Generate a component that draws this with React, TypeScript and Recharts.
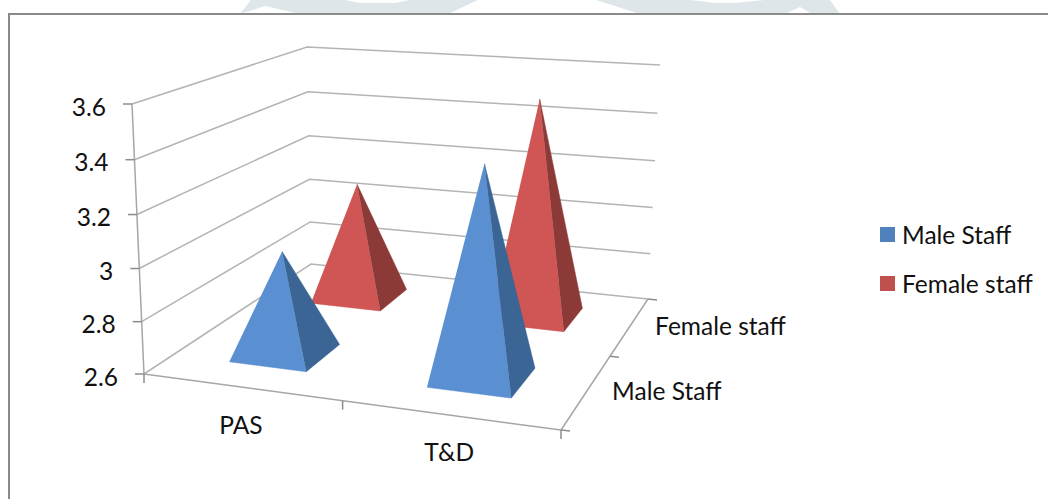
import React from "react";
import { Legend, Scatter, ScatterChart, XAxis, YAxis } from "recharts";

const WIDTH = 1048;
const HEIGHT = 499;

const categories = ["PAS", "T&D"];
const seriesNames = ["Male Staff", "Female staff"];
const legendColors = ["#4f81bd", "#c0504d"];
const maleValues = [3.0, 3.4];
const femaleValues = [3.09, 3.5];
const valueTicks = [2.6, 2.8, 3, 3.2, 3.4, 3.6];

const VALUE_MIN = 2.6;
const VALUE_MAX = 3.6;
// share of a category / series slot taken by a pyramid's base
const BASE_U = 0.2;
const BASE_V = 0.21;
// foreshortening of the value axis towards the top of the box
const VALUE_PERSPECTIVE = 1.04;

type Pt = { x: number; y: number };

// corners of the 3D box on the page: front-left, front-right, back-right, back-left
const floorCorners = [
  { x: 144, y: 374 },
  { x: 561, y: 430 },
  { x: 648, y: 299 },
  { x: 311, y: 264 },
];
const ceilingCorners = [
  { x: 132, y: 104 },
  { x: 578, y: 140 },
  { x: 660, y: 65 },
  { x: 307, y: 47 },
];

// perspective map from the unit square onto a quad
const quadMap = ([p0, p1, p2, p3]: Pt[]) => {
  const sx = p0.x - p1.x + p2.x - p3.x;
  const sy = p0.y - p1.y + p2.y - p3.y;
  const dx1 = p1.x - p2.x;
  const dx2 = p3.x - p2.x;
  const dy1 = p1.y - p2.y;
  const dy2 = p3.y - p2.y;
  const den = dx1 * dy2 - dx2 * dy1;
  const g = (sx * dy2 - dx2 * sy) / den;
  const h = (dx1 * sy - sx * dy1) / den;
  return (u: number, v: number): Pt => {
    const w = g * u + h * v + 1;
    return {
      x: ((p1.x - p0.x + g * p1.x) * u + (p3.x - p0.x + h * p3.x) * v + p0.x) / w,
      y: ((p1.y - p0.y + g * p1.y) * u + (p3.y - p0.y + h * p3.y) * v + p0.y) / w,
    };
  };
};

const floorAt = quadMap(floorCorners);
const ceilingAt = quadMap(ceilingCorners);

// u runs along the categories, v into the depth, value up the walls
const project = (u: number, v: number, value: number): Pt => {
  const a = floorAt(u, v);
  const b = ceilingAt(u, v);
  const raw = (value - VALUE_MIN) / (VALUE_MAX - VALUE_MIN);
  const t = raw / (raw + (1 - raw) * VALUE_PERSPECTIVE);
  return { x: a.x + (b.x - a.x) * t, y: a.y + (b.y - a.y) * t };
};

const pyramidFaces = (catIndex: number, seriesIndex: number, value: number) => {
  const u = (catIndex + 0.5) / categories.length;
  const v = (seriesIndex + 0.5) / seriesNames.length;
  const du = BASE_U / categories.length;
  const dv = BASE_V / seriesNames.length;
  const apex = project(u, v, value);
  const frontLeft = project(u - du, v - dv, VALUE_MIN);
  const frontRight = project(u + du, v - dv, VALUE_MIN);
  const backRight = project(u + du, v + dv, VALUE_MIN);
  return { front: [frontLeft, frontRight, apex], side: [frontRight, backRight, apex] };
};

const offset = (p: Pt, dx: number, dy: number): Pt => ({ x: p.x + dx, y: p.y + dy });

const gridLines = valueTicks.map((t) => [
  project(0, 0, t),
  project(0, 1, t),
  project(1, 1, t),
]);

const frameLines = [
  [project(0, 0, VALUE_MIN), project(0, 0, VALUE_MAX)],
  [project(0, 0, VALUE_MIN), project(1, 0, VALUE_MIN)],
  [project(1, 0, VALUE_MIN), project(1, 1, VALUE_MIN)],
];

const tickLines = [
  ...valueTicks.map((t) => [project(0, 0, t), offset(project(0, 0, t), -9, 0)]),
  ...[0, 0.5, 1].map((u) => [project(u, 0, VALUE_MIN), offset(project(u, 0, VALUE_MIN), 0, 9)]),
  ...[0, 0.5, 1].map((v) => [project(1, v, VALUE_MIN), offset(project(1, v, VALUE_MIN), 9, 1)]),
];

const valueLabels = valueTicks.map((t) => ({ ...project(0, 0, t), label: String(t) }));
const categoryLabels = categories.map((label, i) => ({
  ...project((i + 0.5) / categories.length, 0, VALUE_MIN),
  label,
}));
const depthLabels = seriesNames.map((label, i) => ({
  ...project(1, (i + 0.5) / seriesNames.length, VALUE_MIN),
  label,
}));

const FONT = "Lato, sans-serif";
const TEXT_SIZE = 24.5;

const textShape = (dx: number, dy: number, anchor: "start" | "middle" | "end") => (p: any) => (
  <text
    x={p.cx + dx}
    y={p.cy + dy}
    textAnchor={anchor}
    dominantBaseline="central"
    fontFamily={FONT}
    fontSize={TEXT_SIZE}
    fill="#111"
  >
    {p.payload.label}
  </text>
);

const noDot = () => <g />;

const face = (key: string, points: Pt[], fill: string) => (
  <Scatter
    key={key}
    data={points}
    fill={fill}
    line={{ fill, stroke: fill, strokeWidth: 0.5 }}
    shape={noDot}
    legendType="none"
    isAnimationActive={false}
  />
);

const stroke = (key: string, points: Pt[], color: string) => (
  <Scatter
    key={key}
    data={points}
    line={{ stroke: color, strokeWidth: 1.5 }}
    shape={noDot}
    legendType="none"
    isAnimationActive={false}
  />
);

const pyramid = (key: string, i: number, s: number, v: number, front: string, side: string) => {
  const f = pyramidFaces(i, s, v);
  return [face(`${key}-front`, f.front, front), face(`${key}-side`, f.side, side)];
};

const legendContent = () => (
  <div style={{ fontFamily: FONT, fontSize: TEXT_SIZE, color: "#111" }}>
    {seriesNames.map((name, i) => (
      <div key={name} style={{ display: "flex", alignItems: "center", height: 49 }}>
        <span style={{ width: 15, height: 15, background: legendColors[i], marginRight: 7 }} />
        {name}
      </div>
    ))}
  </div>
);

export default function App() {
  return (
    <div style={{ position: "absolute", left: 0, top: 0, width: WIDTH, height: HEIGHT, background: "#fff", overflow: "hidden" }}>
      {/* page watermark showing above the chart frame */}
      <svg width={WIDTH} height={14} style={{ position: "absolute", left: 0, top: 0 }}>
        <path d="M240 14 L251 0 L345 0 L360 3 L395 3 L410 0 L478 0 L448 14 L300 14 L265 6 Z" fill="#dfe6ea" />
        <path d="M596 0 L690 0 L715 3 L735 3 L765 0 L830 0 L840 14 L812 14 L800 7 L785 14 L640 14 Z" fill="#dfe6ea" />
      </svg>
      <div
        style={{
          position: "absolute",
          left: 8,
          top: 13,
          right: 0,
          bottom: 0,
          borderTop: "2px solid #8a8a8a",
          borderLeft: "2px solid #8a8a8a",
        }}
      />
      <ScatterChart
        width={WIDTH}
        height={HEIGHT}
        margin={{ top: 0, right: 0, bottom: 0, left: 0 }}
      >
        <XAxis type="number" dataKey="x" domain={[0, WIDTH]} hide />
        <YAxis type="number" dataKey="y" domain={[0, HEIGHT]} reversed hide />
        {/* vertical + centered keeps the legend from taking room off the plot */}
        <Legend
          layout="vertical"
          align="center"
          verticalAlign="middle"
          content={legendContent}
          wrapperStyle={{ position: "absolute", left: 880, top: 210, width: 170 }}
        />
        {gridLines.map((g, i) => stroke(`grid-${i}`, g, "#b4b4b4"))}
        {frameLines.map((g, i) => stroke(`frame-${i}`, g, "#a6a6a6"))}
        {tickLines.map((g, i) => stroke(`tick-${i}`, g, "#8c8c8c"))}
        {femaleValues.map((v, i) => pyramid(`female-${i}`, i, 1, v, "#cf5654", "#8c3a38"))}
        {maleValues.map((v, i) => pyramid(`male-${i}`, i, 0, v, "#5a8fd2", "#3b6594"))}
        <Scatter data={valueLabels} shape={textShape(-26, 2, "end")} legendType="none" isAnimationActive={false} />
        <Scatter data={categoryLabels} shape={textShape(0, 37, "middle")} legendType="none" isAnimationActive={false} />
        <Scatter data={depthLabels} shape={textShape(25, 0, "start")} legendType="none" isAnimationActive={false} />
      </ScatterChart>
    </div>
  );
}
